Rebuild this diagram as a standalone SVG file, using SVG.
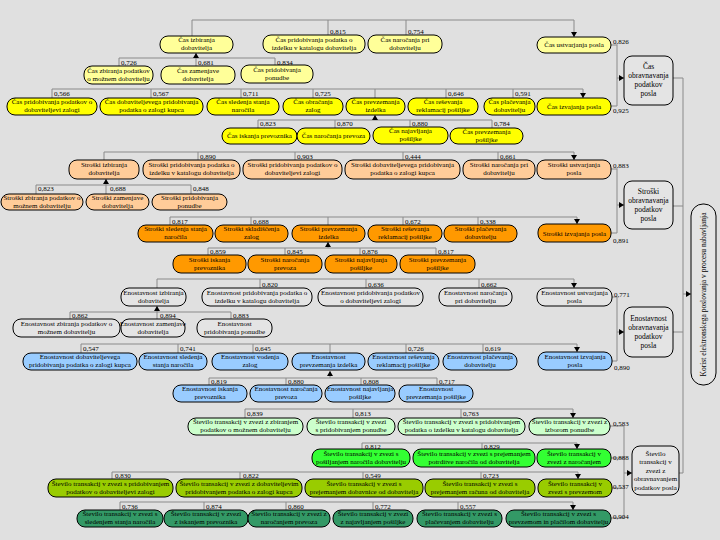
<svg xmlns="http://www.w3.org/2000/svg" width="720" height="540" viewBox="0 0 720 540">
<style>
.n rect{stroke:#000;stroke-width:1}
.y1{fill:#ffff99}.y2{fill:#ffff00}.s1{fill:#ffcc99}.s2{fill:#ff9900}.g0{fill:#e4e4e4}.bl{fill:#99ccff}.lg{fill:#ccffcc}.gg{fill:#33ff33}.yg{fill:#99cc00}.dg{fill:#339966}
text{font-family:"Liberation Serif","Times New Roman",serif;font-size:7px;fill:#000;text-anchor:middle}
.sm text{font-size:7.5px}
text.l{text-anchor:start}
.c path{fill:none;stroke:#8a8a8a;stroke-width:1}
.c path.a{marker-end:url(#ah)}
</style>
<defs>
<marker id="ah" markerUnits="userSpaceOnUse" markerWidth="6" markerHeight="6" refX="5" refY="3" orient="auto"><path d="M0,0 L5,3 L0,6 z" fill="#000"/></marker>
</defs>
<rect width="720" height="540" fill="#e0e0e0"/>

<g class="c" id="connectors">
<!-- section 1 -->
<path d="M192,20 H574 M192,20 V36 M328,20 V35 M406,20 V35"/>
<path class="a" d="M574,20 V37"/>
<path d="M119,58 H275 M119,58 V66 M275,58 V65"/>
<path class="a" d="M196,66 V53"/>
<path d="M52,89 H583 M52,89 V98 M151,89 V98 M241,89 V98 M313,89 V98 M375,89 V98 M446,89 V98 M513,89 V98"/>
<path class="a" d="M583,89 V98"/>
<path d="M258,120 H492 M258,120 V128 M335,120 V128 M410,120 V127 M492,120 V128"/>
<path class="a" d="M375,120 V115"/>
<path d="M611,45 H617 V106 H611"/>
<path class="a" d="M617,78 H624"/>
<!-- section 2 -->
<path d="M104,152 H574 M104,152 V160 M198,152 V160 M295,152 V160 M403,152 V160 M498,152 V160"/>
<path class="a" d="M574,152 V160"/>
<path d="M36,185 H191 M36,185 V194 M191,185 V194"/>
<path class="a" d="M106,194 V179"/>
<path d="M170,217 H577 M170,217 V225 M251,217 V225 M328,217 V225 M403,217 V225 M478,217 V225"/>
<path class="a" d="M577,217 V224"/>
<path d="M208,248 H436 M208,248 V255 M285,248 V255 M360,248 V255 M436,248 V255"/>
<path class="a" d="M328,248 V242"/>
<path d="M611,169 H617 V233 H611"/>
<path class="a" d="M617,205 H624"/>
<!-- section 3 -->
<path d="M157,279 H574 M157,279 V288 M260,279 V288 M366,279 V288 M479,279 V288"/>
<path class="a" d="M574,279 V288"/>
<path d="M70,312 H231 M70,312 V319 M231,312 V319"/>
<path class="a" d="M157,319 V306"/>
<path d="M81,344 H577 M81,344 V353 M178,344 V353 M253,344 V353 M330,344 V353 M406,344 V353 M483,344 V353"/>
<path class="a" d="M577,344 V352"/>
<path d="M209,378 H437 M209,378 V385 M286,378 V385 M361,378 V385 M437,378 V385"/>
<path class="a" d="M330,378 V371"/>
<path d="M612,297 H617 V361 H612"/>
<path class="a" d="M617,332 H624"/>
<!-- section 4 -->
<path d="M245,409 H573 M245,409 V418 M353,409 V418 M461,409 V418"/>
<path class="a" d="M573,409 V418"/>
<path d="M362,443 H577 M362,443 V449 M482,443 V449"/>
<path class="a" d="M577,443 V449"/>
<path d="M112,472 H578 M112,472 V479 M240,472 V479 M363,472 V479 M481,472 V479"/>
<path class="a" d="M578,472 V479"/>
<path d="M120,502 H573 M120,502 V510 M204,502 V510 M286,502 V510 M373,502 V510 M458,502 V510"/>
<path class="a" d="M573,502 V510"/>
<path d="M610,426 H624 V518 H611 M611,458 H624 M612,488 H624"/>
<path class="a" d="M624,473 H632"/>
<!-- to korist -->
<path d="M673,78 H683 V473 H679 M673,206 H683 M673,332 H683"/>
<path class="a" d="M683,294 H691"/>
</g>

<g id="weights">
<text class="l" x="330" y="34">0,815</text><text class="l" x="408" y="34">0,754</text><text class="l" x="613" y="44">0,826</text>
<text class="l" x="121" y="64.5">0,726</text><text class="l" x="198" y="64.5">0,681</text><text class="l" x="277" y="64.5">0,834</text>
<text class="l" x="54" y="96">0,566</text><text class="l" x="153" y="96">0,567</text><text class="l" x="243" y="96">0,711</text><text class="l" x="315" y="96">0,725</text><text class="l" x="448" y="96">0,646</text><text class="l" x="515" y="96">0,591</text>
<text class="l" x="260" y="126">0,823</text><text class="l" x="337" y="126">0,870</text><text class="l" x="412" y="126">0,880</text><text class="l" x="494" y="126">0,784</text>
<text class="l" x="613" y="113">0,925</text>
<text class="l" x="200" y="159">0,890</text><text class="l" x="297" y="159">0,903</text><text class="l" x="405" y="159">0,444</text><text class="l" x="500" y="159">0,661</text><text class="l" x="613" y="167.5">0,883</text>
<text class="l" x="38" y="191">0,823</text><text class="l" x="110" y="191">0,688</text><text class="l" x="193" y="191">0,848</text>
<text class="l" x="172" y="223.5">0,817</text><text class="l" x="253" y="223.5">0,688</text><text class="l" x="405" y="223.5">0,672</text><text class="l" x="480" y="223.5">0,338</text>
<text class="l" x="210" y="253.5">0,859</text><text class="l" x="287" y="253.5">0,845</text><text class="l" x="362" y="253.5">0,876</text><text class="l" x="438" y="253.5">0,817</text>
<text class="l" x="613" y="242.5">0,891</text>
<text class="l" x="262" y="286.5">0,820</text><text class="l" x="368" y="286.5">0,636</text><text class="l" x="481" y="286.5">0,662</text><text class="l" x="614" y="296.5">0,771</text>
<text class="l" x="72" y="318">0,862</text><text class="l" x="160" y="318">0,894</text><text class="l" x="233" y="318">0,883</text>
<text class="l" x="83" y="350.5">0,547</text><text class="l" x="180" y="350.5">0,741</text><text class="l" x="255" y="350.5">0,645</text><text class="l" x="408" y="350.5">0,726</text><text class="l" x="485" y="350.5">0,619</text>
<text class="l" x="614" y="369.5">0,890</text>
<text class="l" x="211" y="383.5">0,819</text><text class="l" x="288" y="383.5">0,880</text><text class="l" x="363" y="383.5">0,808</text><text class="l" x="439" y="383.5">0,717</text>
<text class="l" x="247" y="415.5">0,839</text><text class="l" x="355" y="415.5">0,813</text><text class="l" x="463" y="415.5">0,763</text><text class="l" x="613" y="425.5">0,583</text>
<text class="l" x="365" y="448.5">0,812</text><text class="l" x="484" y="448.5">0,829</text><text class="l" x="613" y="459.5">0,888</text>
<text class="l" x="115" y="478">0,830</text><text class="l" x="243" y="478">0,822</text><text class="l" x="365" y="478">0,549</text><text class="l" x="483" y="478">0,723</text><text class="l" x="613" y="488.5">0,537</text>
<text class="l" x="122" y="508.5">0,736</text><text class="l" x="206" y="508.5">0,874</text><text class="l" x="288" y="508.5">0,860</text><text class="l" x="375" y="508.5">0,772</text><text class="l" x="460" y="508.5">0,557</text><text class="l" x="613" y="518.5">0,904</text>
</g>

<!-- Section 1: Čas -->
<g class="n" id="cas-izbiranja"><rect class="y1" x="160" y="36" width="73" height="17" rx="8"/><text><tspan x="196.5" y="42.3">Čas izbiranja</tspan><tspan x="196.5" y="50.1">dobavitelja</tspan></text></g>
<g class="n" id="cas-katalog"><rect class="y1" x="263" y="35" width="102" height="18" rx="8"/><text><tspan x="314" y="41.8">Čas pridobivanja podatka o</tspan><tspan x="314" y="49.6">izdelku v katalogu dobavitelja</tspan></text></g>
<g class="n" id="cas-narocanja"><rect class="y1" x="368" y="35" width="74" height="18" rx="8"/><text><tspan x="405" y="41.8">Čas naročanja pri</tspan><tspan x="405" y="49.6">dobavitelju</tspan></text></g>
<g class="n" id="cas-ustvarjanja"><rect class="y1" x="537" y="37" width="74" height="16" rx="8"/><text x="574" y="47">Čas ustvarjanja posla</text></g>
<g class="n" id="cas-zbiranja"><rect class="y1" x="84" y="66" width="69" height="18" rx="8"/><text><tspan x="118.5" y="72.8">Čas zbiranja podatkov</tspan><tspan x="118.5" y="80.6">o možnem dobavitelju</tspan></text></g>
<g class="n" id="cas-zamenjave"><rect class="y1" x="161" y="66" width="74" height="18" rx="8"/><text><tspan x="198" y="72.8">Čas zamenjave</tspan><tspan x="198" y="80.6">dobavitelja</tspan></text></g>
<g class="n" id="cas-ponudbe"><rect class="y1" x="241" y="65" width="72" height="18" rx="8"/><text><tspan x="277" y="71.8">Čas pridobivanja</tspan><tspan x="277" y="79.6">ponudbe</tspan></text></g>
<g class="n" id="cas-zalogi"><rect class="y2" x="7" y="98" width="90" height="17" rx="8"/><text><tspan x="52" y="104.3">Čas pridobivanja podatkov o</tspan><tspan x="52" y="112.1">dobaviteljevi zalogi</tspan></text></g>
<g class="n" id="cas-dobaviteljevega"><rect class="y2" x="100" y="98" width="103" height="17" rx="8"/><text><tspan x="151.5" y="104.3">Čas dobaviteljevega pridobivanja</tspan><tspan x="151.5" y="112.1">podatka o zalogi kupca</tspan></text></g>
<g class="n" id="cas-sledenja"><rect class="y2" x="207" y="98" width="72" height="17" rx="8"/><text><tspan x="243" y="104.3">Čas sledenja stanja</tspan><tspan x="243" y="112.1">naročila</tspan></text></g>
<g class="n" id="cas-obracanja"><rect class="y2" x="283" y="98" width="60" height="17" rx="8"/><text><tspan x="313" y="104.3">Čas obračanja</tspan><tspan x="313" y="112.1">zalog</tspan></text></g>
<g class="n" id="cas-prevzemanja-izdelka"><rect class="y2" x="346" y="98" width="59" height="17" rx="8"/><text><tspan x="375.5" y="104.3">Čas prevzemanja</tspan><tspan x="375.5" y="112.1">izdelka</tspan></text></g>
<g class="n" id="cas-resevanja"><rect class="y2" x="408" y="98" width="70" height="17" rx="8"/><text><tspan x="443" y="104.3">Čas reševanja</tspan><tspan x="443" y="112.1">reklamacij pošiljke</tspan></text></g>
<g class="n" id="cas-placevanja"><rect class="y2" x="484" y="98" width="51" height="17" rx="8"/><text><tspan x="509.5" y="104.3">Čas plačevanja</tspan><tspan x="509.5" y="112.1">dobavitelju</tspan></text></g>
<g class="n" id="cas-izvajanja"><rect class="y2" x="537" y="98" width="74" height="17" rx="8"/><text x="574" y="108.5">Čas izvajanja posla</text></g>
<g class="n" id="cas-iskanja"><rect class="y2" x="222" y="128" width="75" height="16" rx="8"/><text x="259.5" y="138">Čas iskanja prevoznika</text></g>
<g class="n" id="cas-narocanja-prevoza"><rect class="y2" x="297" y="128" width="73" height="16" rx="8"/><text x="333.5" y="138">Čas naročanja prevoza</text></g>
<g class="n" id="cas-najavljanja"><rect class="y2" x="373" y="127" width="75" height="17" rx="8"/><text><tspan x="410.5" y="133.3">Čas najavljanja</tspan><tspan x="410.5" y="141.1">pošiljke</tspan></text></g>
<g class="n" id="cas-prevzemanja-posiljke"><rect class="y2" x="450" y="128" width="73" height="16" rx="8"/><text><tspan x="486.5" y="133.8">Čas prevzemanja</tspan><tspan x="486.5" y="141.6">pošiljke</tspan></text></g>
<g class="n sm" id="cas-obravnavanja"><rect class="g0" x="624" y="56" width="49" height="49" rx="8"/><text><tspan x="648.5" y="69">Čas</tspan><tspan x="648.5" y="78">obravnavanja</tspan><tspan x="648.5" y="87">podatkov</tspan><tspan x="648.5" y="96">posla</tspan></text></g>

<!-- Section 2: Stroški -->
<g class="n" id="str-izbiranja"><rect class="s1" x="69" y="160" width="70" height="19" rx="8"/><text><tspan x="104" y="167.3">Stroški izbiranja</tspan><tspan x="104" y="175.1">dobavitelja</tspan></text></g>
<g class="n" id="str-katalog"><rect class="s1" x="143" y="160" width="97" height="19" rx="8"/><text><tspan x="191.5" y="167.3">Stroški pridobivanja podatka o</tspan><tspan x="191.5" y="175.1">izdelku v katalogu dobavitelja</tspan></text></g>
<g class="n" id="str-zalogi"><rect class="s1" x="243" y="160" width="99" height="19" rx="8"/><text><tspan x="292.5" y="167.3">Stroški pridobivanja podatkov o</tspan><tspan x="292.5" y="175.1">dobaviteljevi zalogi</tspan></text></g>
<g class="n" id="str-dobaviteljevega"><rect class="s1" x="345" y="160" width="115" height="19" rx="8"/><text><tspan x="402.5" y="167.3">Stroški dobaviteljevega pridobivanja</tspan><tspan x="402.5" y="175.1">podatka o zalogi kupca</tspan></text></g>
<g class="n" id="str-narocanja"><rect class="s1" x="463" y="160" width="72" height="19" rx="8"/><text><tspan x="499" y="167.3">Stroški naročanja pri</tspan><tspan x="499" y="175.1">dobavitelju</tspan></text></g>
<g class="n" id="str-ustvarjanja"><rect class="s1" x="537" y="160" width="74" height="19" rx="8"/><text><tspan x="574" y="167.3">Stroški ustvarjanja</tspan><tspan x="574" y="175.1">posla</tspan></text></g>
<g class="n" id="str-zbiranja"><rect class="s1" x="1" y="194" width="82" height="16" rx="8"/><text><tspan x="42" y="199.8">Stroški zbiranja podatkov o</tspan><tspan x="42" y="207.6">možnem dobavitelju</tspan></text></g>
<g class="n" id="str-zamenjave"><rect class="s1" x="86" y="194" width="63" height="16" rx="8"/><text><tspan x="117.5" y="199.8">Stroški zamenjave</tspan><tspan x="117.5" y="207.6">dobavitelja</tspan></text></g>
<g class="n" id="str-ponudbe"><rect class="s1" x="152" y="194" width="75" height="16" rx="8"/><text><tspan x="189.5" y="199.8">Stroški pridobivanja</tspan><tspan x="189.5" y="207.6">ponudbe</tspan></text></g>
<g class="n" id="str-sledenja"><rect class="s2" x="138" y="225" width="75" height="17" rx="8"/><text><tspan x="175.5" y="231.3">Stroški sledenja stanja</tspan><tspan x="175.5" y="239.1">naročila</tspan></text></g>
<g class="n" id="str-skladiscenja"><rect class="s2" x="215" y="225" width="73" height="17" rx="8"/><text><tspan x="251.5" y="231.3">Stroški skladiščenja</tspan><tspan x="251.5" y="239.1">zalog</tspan></text></g>
<g class="n" id="str-prevzemanja-izdelka"><rect class="s2" x="292" y="225" width="73" height="17" rx="8"/><text><tspan x="328.5" y="231.3">Stroški prevzemanja</tspan><tspan x="328.5" y="239.1">izdelka</tspan></text></g>
<g class="n" id="str-resevanja"><rect class="s2" x="368" y="225" width="74" height="17" rx="8"/><text><tspan x="405" y="231.3">Stroški reševanja</tspan><tspan x="405" y="239.1">reklamacij pošiljke</tspan></text></g>
<g class="n" id="str-placevanja"><rect class="s2" x="444" y="225" width="73" height="17" rx="8"/><text><tspan x="480.5" y="231.3">Stroški plačevanja</tspan><tspan x="480.5" y="239.1">dobavitelju</tspan></text></g>
<g class="n" id="str-izvajanja"><rect class="s2" x="538" y="224" width="73" height="18" rx="8"/><text x="574.5" y="235.5">Stroški izvajanja posla</text></g>
<g class="n" id="str-iskanja"><rect class="s2" x="173" y="255" width="73" height="18" rx="8"/><text><tspan x="209.5" y="261.8">Stroški iskanja</tspan><tspan x="209.5" y="269.6">prevoznika</tspan></text></g>
<g class="n" id="str-narocanja-prevoza"><rect class="s2" x="248" y="255" width="74" height="18" rx="8"/><text><tspan x="285" y="261.8">Stroški naročanja</tspan><tspan x="285" y="269.6">prevoza</tspan></text></g>
<g class="n" id="str-najavljanja"><rect class="s2" x="325" y="255" width="72" height="18" rx="8"/><text><tspan x="361" y="261.8">Stroški najavljanja</tspan><tspan x="361" y="269.6">pošiljke</tspan></text></g>
<g class="n" id="str-prevzemanja-posiljke"><rect class="s2" x="400" y="255" width="75" height="18" rx="8"/><text><tspan x="437.5" y="261.8">Stroški prevzemanja</tspan><tspan x="437.5" y="269.6">pošiljke</tspan></text></g>
<g class="n sm" id="str-obravnavanja"><rect class="g0" x="624" y="181" width="49" height="48" rx="8"/><text><tspan x="648.5" y="193.5">Stroški</tspan><tspan x="648.5" y="202.5">obravnavanja</tspan><tspan x="648.5" y="211.5">podatkov</tspan><tspan x="648.5" y="220.5">posla</tspan></text></g>

<!-- Section 3: Enostavnost -->
<g class="n" id="eno-izbiranja"><rect class="g0" x="121" y="288" width="65" height="18" rx="8"/><text><tspan x="153.5" y="294.8">Enostavnost izbiranja</tspan><tspan x="153.5" y="302.6">dobavitelja</tspan></text></g>
<g class="n" id="eno-katalog"><rect class="g0" x="202" y="288" width="110" height="18" rx="8"/><text><tspan x="257" y="294.8">Enostavnost pridobivanja podatka o</tspan><tspan x="257" y="302.6">izdelku v katalogu dobavitelja</tspan></text></g>
<g class="n" id="eno-zalogi"><rect class="g0" x="318" y="288" width="105" height="18" rx="8"/><text><tspan x="370.5" y="294.8">Enostavnost pridobivanja podatkov</tspan><tspan x="370.5" y="302.6">o dobaviteljevi zalogi</tspan></text></g>
<g class="n" id="eno-narocanja"><rect class="g0" x="439" y="288" width="73" height="18" rx="8"/><text><tspan x="475.5" y="294.8">Enostavnost naročanja</tspan><tspan x="475.5" y="302.6">pri dobavitelju</tspan></text></g>
<g class="n" id="eno-ustvarjanja"><rect class="g0" x="537" y="288" width="75" height="18" rx="8"/><text><tspan x="574.5" y="294.8">Enostavnost ustvarjanja</tspan><tspan x="574.5" y="302.6">posla</tspan></text></g>
<g class="n" id="eno-zbiranja"><rect class="g0" x="13" y="319" width="107" height="18" rx="8"/><text><tspan x="66.5" y="325.8">Enostavnost zbiranja podatkov o</tspan><tspan x="66.5" y="333.6">možnem dobavitelju</tspan></text></g>
<g class="n" id="eno-zamenjave"><rect class="g0" x="121" y="319" width="64" height="18" rx="8"/><text><tspan x="153" y="325.8">Enostavnost zamenjave</tspan><tspan x="153" y="333.6">dobavitelja</tspan></text></g>
<g class="n" id="eno-ponudbe"><rect class="g0" x="197" y="319" width="75" height="18" rx="8"/><text><tspan x="234.5" y="325.8">Enostavnost</tspan><tspan x="234.5" y="333.6">pridobivanja ponudbe</tspan></text></g>
<g class="n" id="eno-dobaviteljevega"><rect class="bl" x="23" y="353" width="114" height="17" rx="8"/><text><tspan x="80" y="359.3">Enostavnost dobaviteljevega</tspan><tspan x="80" y="367.1">pridobivanja podatka o zalogi kupca</tspan></text></g>
<g class="n" id="eno-sledenja"><rect class="bl" x="139" y="353" width="68" height="17" rx="8"/><text><tspan x="173" y="359.3">Enostavnost sledenja</tspan><tspan x="173" y="367.1">stanja naročila</tspan></text></g>
<g class="n" id="eno-vodenja"><rect class="bl" x="212" y="353" width="76" height="17" rx="8"/><text><tspan x="250" y="359.3">Enostavnost vodenja</tspan><tspan x="250" y="367.1">zalog</tspan></text></g>
<g class="n" id="eno-prevzemanja-izdelka"><rect class="bl" x="292" y="353" width="73" height="17" rx="8"/><text><tspan x="328.5" y="359.3">Enostavnost</tspan><tspan x="328.5" y="367.1">prevzemanja izdelka</tspan></text></g>
<g class="n" id="eno-resevanja"><rect class="bl" x="368" y="353" width="71" height="17" rx="8"/><text><tspan x="403.5" y="359.3">Enostavnost reševanja</tspan><tspan x="403.5" y="367.1">reklamacij pošiljke</tspan></text></g>
<g class="n" id="eno-placevanja"><rect class="bl" x="443" y="353" width="74" height="17" rx="8"/><text><tspan x="480" y="359.3">Enostavnost plačevanja</tspan><tspan x="480" y="367.1">dobavitelju</tspan></text></g>
<g class="n" id="eno-izvajanja"><rect class="bl" x="538" y="352" width="74" height="18" rx="8"/><text><tspan x="575" y="358.8">Enostavnost izvajanja</tspan><tspan x="575" y="366.6">posla</tspan></text></g>
<g class="n" id="eno-iskanja"><rect class="bl" x="173" y="385" width="74" height="17" rx="8"/><text><tspan x="210" y="391.3">Enostavnost iskanja</tspan><tspan x="210" y="399.1">prevoznika</tspan></text></g>
<g class="n" id="eno-narocanja-prevoza"><rect class="bl" x="250" y="385" width="72" height="17" rx="8"/><text><tspan x="286" y="391.3">Enostavnost naročanja</tspan><tspan x="286" y="399.1">prevoza</tspan></text></g>
<g class="n" id="eno-najavljanja"><rect class="bl" x="325" y="385" width="70" height="17" rx="8"/><text><tspan x="360" y="391.3">Enostavnost najavljanja</tspan><tspan x="360" y="399.1">pošiljke</tspan></text></g>
<g class="n" id="eno-prevzemanja-posiljke"><rect class="bl" x="399" y="385" width="74" height="17" rx="8"/><text><tspan x="436" y="391.3">Enostavnost</tspan><tspan x="436" y="399.1">prevzemanja pošiljke</tspan></text></g>
<g class="n sm" id="eno-obravnavanja"><rect class="g0" x="624" y="307" width="49" height="50" rx="8"/><text><tspan x="648.5" y="320.5">Enostavnost</tspan><tspan x="648.5" y="329.5">obravnavanja</tspan><tspan x="648.5" y="338.5">podatkov</tspan><tspan x="648.5" y="347.5">posla</tspan></text></g>

<!-- Section 4: Število transakcij -->
<g class="n" id="st-zbiranjem"><rect class="lg" x="188" y="418" width="115" height="17" rx="8"/><text><tspan x="245.5" y="424.3">Število transakcij v zvezi z zbiranjem</tspan><tspan x="245.5" y="432.1">podatkov o možnem dobavitelju</tspan></text></g>
<g class="n" id="st-ponudbe"><rect class="lg" x="307" y="418" width="88" height="17" rx="8"/><text><tspan x="351" y="424.3">Število transakcij v zvezi</tspan><tspan x="351" y="432.1">s pridobivanjem ponudbe</tspan></text></g>
<g class="n" id="st-katalog"><rect class="lg" x="398" y="418" width="127" height="17" rx="8"/><text><tspan x="461.5" y="424.3">Število transakcij v zvezi s pridobivanjem</tspan><tspan x="461.5" y="432.1">podatka o izdelku v katalogu dobavitelja</tspan></text></g>
<g class="n" id="st-izborom"><rect class="lg" x="529" y="418" width="81" height="17" rx="8"/><text><tspan x="569.5" y="424.3">Število transakcij v zvezi z</tspan><tspan x="569.5" y="432.1">izborom ponudbe</tspan></text></g>
<g class="n" id="st-posiljanjem"><rect class="gg" x="312" y="449" width="98" height="18" rx="8"/><text><tspan x="361" y="455.8">Število transakcij v zvezi s</tspan><tspan x="361" y="463.6">pošiljanjem naročila dobavitelju</tspan></text></g>
<g class="n" id="st-potrditve"><rect class="gg" x="413" y="449" width="122" height="18" rx="8"/><text><tspan x="474" y="455.8">Število transakcij v zvezi s prejemanjem</tspan><tspan x="474" y="463.6">potrditve naročila od dobavitelja</tspan></text></g>
<g class="n" id="st-narocanjem"><rect class="gg" x="537" y="449" width="74" height="18" rx="8"/><text><tspan x="574" y="455.8">Število transakcij v</tspan><tspan x="574" y="463.6">zvezi z naročanjem</tspan></text></g>
<g class="n" id="st-zalogi"><rect class="yg" x="48" y="479" width="125" height="18" rx="8"/><text><tspan x="110.5" y="485.8">Število transakcij v zvezi s pridobivanjem</tspan><tspan x="110.5" y="493.6">podatkov o dobaviteljevi zalogi</tspan></text></g>
<g class="n" id="st-dobaviteljevim"><rect class="yg" x="176" y="479" width="126" height="18" rx="8"/><text><tspan x="239" y="485.8">Število transakcij v zvezi z dobaviteljevim</tspan><tspan x="239" y="493.6">pridobivanjem podatka o zalogi kupca</tspan></text></g>
<g class="n" id="st-dobavnice"><rect class="yg" x="305" y="479" width="118" height="18" rx="8"/><text><tspan x="364" y="485.8">Število transakcij v zvezi s</tspan><tspan x="364" y="493.6">prejemanjem dobavnice od dobavitelja</tspan></text></g>
<g class="n" id="st-racuna"><rect class="yg" x="425" y="479" width="110" height="18" rx="8"/><text><tspan x="480" y="485.8">Število transakcij v zvezi s</tspan><tspan x="480" y="493.6">prejemanjem računa od dobavitelja</tspan></text></g>
<g class="n" id="st-prevzemom"><rect class="yg" x="538" y="479" width="74" height="18" rx="8"/><text><tspan x="575" y="485.8">Število transakcij v</tspan><tspan x="575" y="493.6">zvezi s prevzemom</tspan></text></g>
<g class="n" id="st-sledenjem"><rect class="dg" x="77" y="510" width="86" height="17" rx="8"/><text><tspan x="120" y="516.3">Število transakcij v zvezi s</tspan><tspan x="120" y="524.1">sledenjem stanja naročila</tspan></text></g>
<g class="n" id="st-iskanjem"><rect class="dg" x="164" y="510" width="84" height="17" rx="8"/><text><tspan x="206" y="516.3">Število transakcij v zvezi</tspan><tspan x="206" y="524.1">z iskanjem prevoznika</tspan></text></g>
<g class="n" id="st-narocanjem-prevoza"><rect class="dg" x="248" y="510" width="82" height="17" rx="8"/><text><tspan x="289" y="516.3">Število transakcij v zvezi z</tspan><tspan x="289" y="524.1">naročanjem prevoza</tspan></text></g>
<g class="n" id="st-najavljanjem"><rect class="dg" x="333" y="510" width="80" height="17" rx="8"/><text><tspan x="373" y="516.3">Število transakcij v zvezi</tspan><tspan x="373" y="524.1">z najavljanjem pošiljke</tspan></text></g>
<g class="n" id="st-placevanjem"><rect class="dg" x="417" y="510" width="85" height="17" rx="8"/><text><tspan x="459.5" y="516.3">Število transakcij v zvezi s</tspan><tspan x="459.5" y="524.1">plačevanjem dobavitelju</tspan></text></g>
<g class="n" id="st-prevzemom-placilom"><rect class="dg" x="506" y="510" width="105" height="17" rx="8"/><text><tspan x="558.5" y="516.3">Število transakcij v zvezi s</tspan><tspan x="558.5" y="524.1">prevzemom in plačilom dobavitelju</tspan></text></g>
<g class="n" id="st-obravnavanjem"><rect class="g0" x="632" y="446" width="47" height="49" rx="8"/><text><tspan x="655.5" y="455.5">Število</tspan><tspan x="655.5" y="464">transakcij v</tspan><tspan x="655.5" y="472.5">zvezi z</tspan><tspan x="655.5" y="481">obravnavanjem</tspan><tspan x="655.5" y="489.5">podatkov posla</tspan></text></g>

<!-- Korist -->
<g class="n sm" id="korist"><rect class="g0" x="691" y="204" width="25" height="181" rx="12"/><text transform="translate(706.2,294.5) rotate(-90)" x="0" y="0">Korist elektronskega poslovanja v procesu nabavljanja</text></g>
</svg>
